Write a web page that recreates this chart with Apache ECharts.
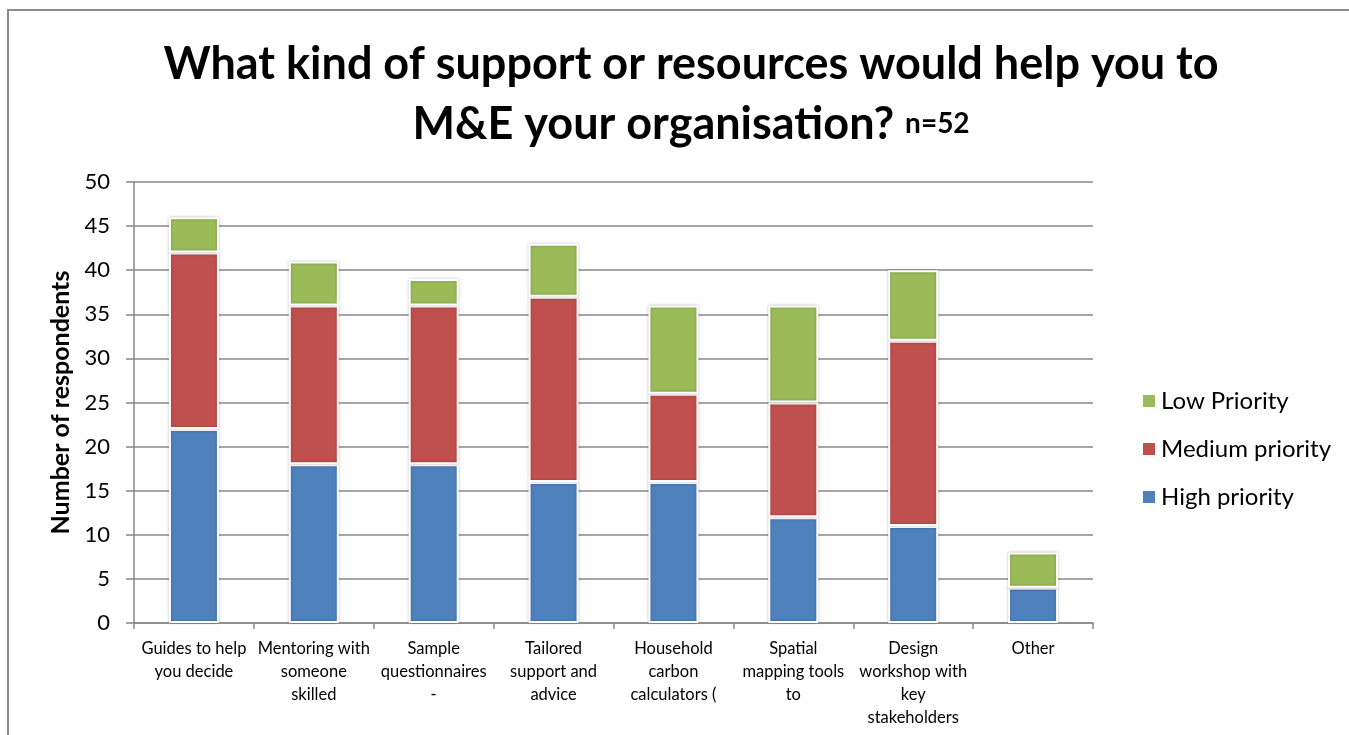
<!DOCTYPE html>
<html><head><meta charset="utf-8">
<script src="https://cdn.jsdelivr.net/npm/echarts@6/dist/echarts.min.js"></script>
<style>html,body{margin:0;padding:0;background:#fff}#c{width:1349px;height:735px}</style>
</head><body><div id="c"></div>
<script>
const categories = ['Guides to help\nyou decide','Mentoring with\nsomeone\nskilled','Sample\nquestionnaires\n-','Tailored\nsupport and\nadvice','Household\ncarbon\ncalculators (','Spatial\nmapping tools\nto','Design\nworkshop with\nkey\nstakeholders','Other'];
const highPriority = [22,18,18,16,16,12,11,4];
const mediumPriority = [20,18,18,21,10,13,21,0];
const lowPriority = [4,5,3,6,10,11,8,4];
const yTicks = {min:0, max:50, interval:5};

const F = 'Lato, "Noto Sans", sans-serif';
const chart = echarts.init(document.getElementById('c'));
const barStyle = c => ({color:c, borderColor:'#fff', borderWidth:2, shadowColor:'rgba(0,0,0,0.25)', shadowBlur:3});
chart.setOption({
  animation:false,
  textStyle:{fontFamily:F},
  graphic:[{type:'rect', shape:{x:8,y:10,width:1400,height:800}, style:{fill:'none', stroke:'#8c8c8c', lineWidth:2}, z:-10}],
  title:{
    text:'{b|What kind of support or resources would help you to}\n{b|M&E your organisation?} {s|n=52}',
    left:686, top:29, textAlign:'center',
    textStyle:{fontFamily:F, fontWeight:'bold', fontSize:45, color:'#000', lineHeight:60,
      rich:{b:{fontFamily:F, fontWeight:'bold', fontSize:45, color:'#000', lineHeight:60},
            s:{fontFamily:F, fontWeight:'bold', fontSize:28, color:'#000', lineHeight:60, verticalAlign:'bottom', padding:[0,0,16,0]}}}
  },
  legend:{
    orient:'vertical', left:1136, top:384, itemGap:24, itemWidth:14, itemHeight:14,
    icon:'rect',
    data:['Low Priority','Medium priority','High priority'],
    textStyle:{fontFamily:F, fontSize:24, color:'#000', padding:[0,0,0,0]}
  },
  grid:{left:134, right:256, top:182, bottom:112, containLabel:false},
  xAxis:{
    type:'category', data:categories,
    axisLine:{lineStyle:{color:'#888', width:1.5}},
    axisTick:{show:true, alignWithLabel:false, length:6, lineStyle:{color:'#888', width:1.5}},
    axisLabel:{interval:0, fontFamily:F, fontSize:16.5, color:'#000', lineHeight:23, margin:14}
  },
  yAxis:{
    type:'value', min:yTicks.min, max:yTicks.max, interval:yTicks.interval,
    name:'Number of respondents', nameLocation:'middle', nameGap:59,
    nameTextStyle:{fontFamily:F, fontWeight:'bold', fontSize:25, color:'#000'},
    axisLine:{show:true, lineStyle:{color:'#888', width:1.5}},
    axisTick:{show:true, length:8, lineStyle:{color:'#888', width:1.5}},
    axisLabel:{fontFamily:F, fontSize:22, color:'#000', margin:24},
    splitLine:{lineStyle:{color:'#888', width:1.5}}
  },
  series:[
    {name:'High priority', type:'bar', stack:'s', data:highPriority, barWidth:50, itemStyle:barStyle('#4f81bd')},
    {name:'Medium priority', type:'bar', stack:'s', data:mediumPriority, barWidth:50, itemStyle:barStyle('#c0504d')},
    {name:'Low Priority', type:'bar', stack:'s', data:lowPriority, barWidth:50, itemStyle:barStyle('#9bbb59')}
  ]
});
</script></body></html>
